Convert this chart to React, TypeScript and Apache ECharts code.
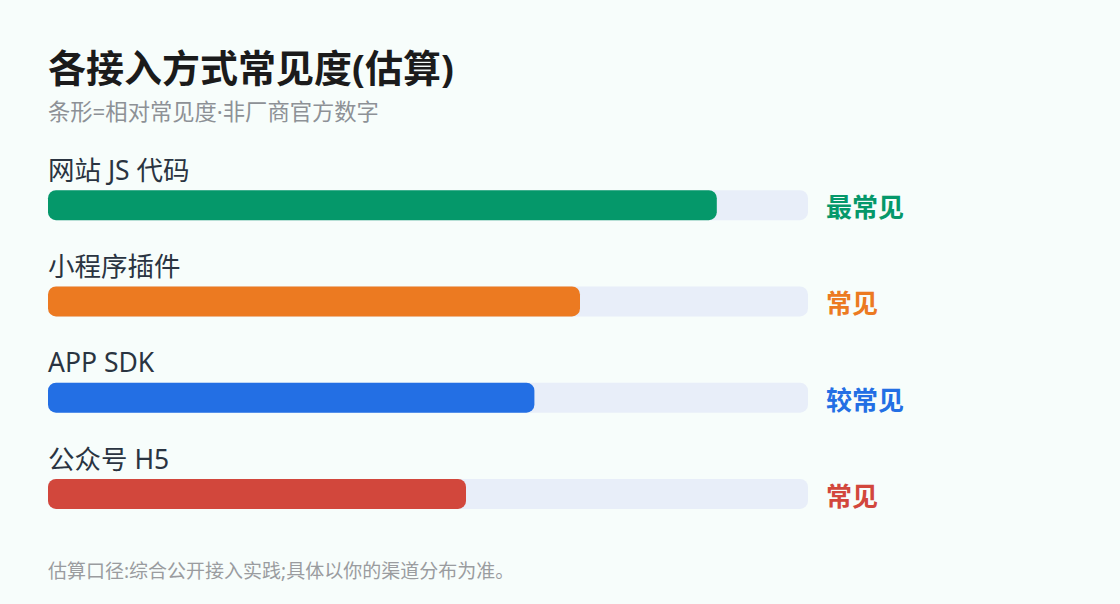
import React, { useEffect, useRef } from "react";
import * as echarts from "echarts";

const categories = ["网站 JS 代码", "小程序插件", "APP SDK", "公众号 H5"];
const values = [88, 70, 64, 55];
const ratings = ["最常见", "常见", "较常见", "常见"];
const colors = ["#05986a", "#ec7a21", "#236fe4", "#d2473c"];
const trackMax = 100;

const titleText = "各接入方式常见度(估算)";
const subtitleText = "条形=相对常见度·非厂商官方数字";
const footerText = "估算口径:综合公开接入实践;具体以你的渠道分布为准。";

const FONT = "'Noto Sans', 'Noto Sans CJK SC', sans-serif";

export default function App() {
  const ref = useRef<HTMLDivElement>(null);
  useEffect(() => {
    if (!ref.current) return;
    const chart = echarts.init(ref.current, null, { renderer: "svg" });
    chart.setOption({
      animation: false,
      backgroundColor: "#f7fdfb",
      title: [
        {
          text: titleText,
          left: 48,
          top: 48,
          padding: 0,
          textStyle: { fontFamily: FONT, fontSize: 38, fontWeight: "bold", color: "#1b1b1b" },
        },
        {
          text: subtitleText,
          left: 48,
          top: 100,
          padding: 0,
          textStyle: { fontFamily: FONT, fontSize: 22.3, fontWeight: "normal", color: "#8d9196" },
        },
        {
          text: footerText,
          left: 48,
          top: 561,
          padding: 0,
          textStyle: { fontFamily: FONT, fontSize: 19, fontWeight: "normal", color: "#9a9c9f" },
        },
      ],
      grid: { left: 48, right: 312, top: 157, bottom: 62, containLabel: false },
      xAxis: {
        type: "value",
        min: 0,
        max: trackMax,
        show: false,
      },
      yAxis: {
        type: "category",
        data: categories,
        inverse: true,
        show: false,
      },
      series: [
        {
          type: "bar",
          data: categories.map((c, i) => ({
            value: trackMax,
            name: c,
            label: { color: colors[i] },
          })),
          barWidth: 30,
          barGap: "-100%",
          itemStyle: { color: "#e8eef9", borderRadius: 8 },
          label: {
            show: true,
            position: "right",
            distance: 18,
            offset: [0, 2],
            formatter: (p: any) => ratings[p.dataIndex],
            fontFamily: FONT,
            fontSize: 26,
            fontWeight: "bold",
          },
          silent: true,
          z: 1,
        },
        {
          type: "bar",
          data: values.map((v, i) => ({
            value: v,
            itemStyle: { color: colors[i] },
          })),
          barWidth: 30,
          barGap: "-100%",
          itemStyle: { borderRadius: 8 },
          label: {
            show: true,
            position: [0, -7],
            align: "left",
            verticalAlign: "bottom",
            formatter: (p: any) => categories[p.dataIndex],
            fontFamily: FONT,
            fontSize: 26.5,
            color: "#2a3441",
          },
          z: 2,
        },
      ],
    });
    return () => chart.dispose();
  }, []);
  return <div ref={ref} style={{ width: 1120, height: 604, position: "absolute", left: 0, top: 0 }} />;
}
